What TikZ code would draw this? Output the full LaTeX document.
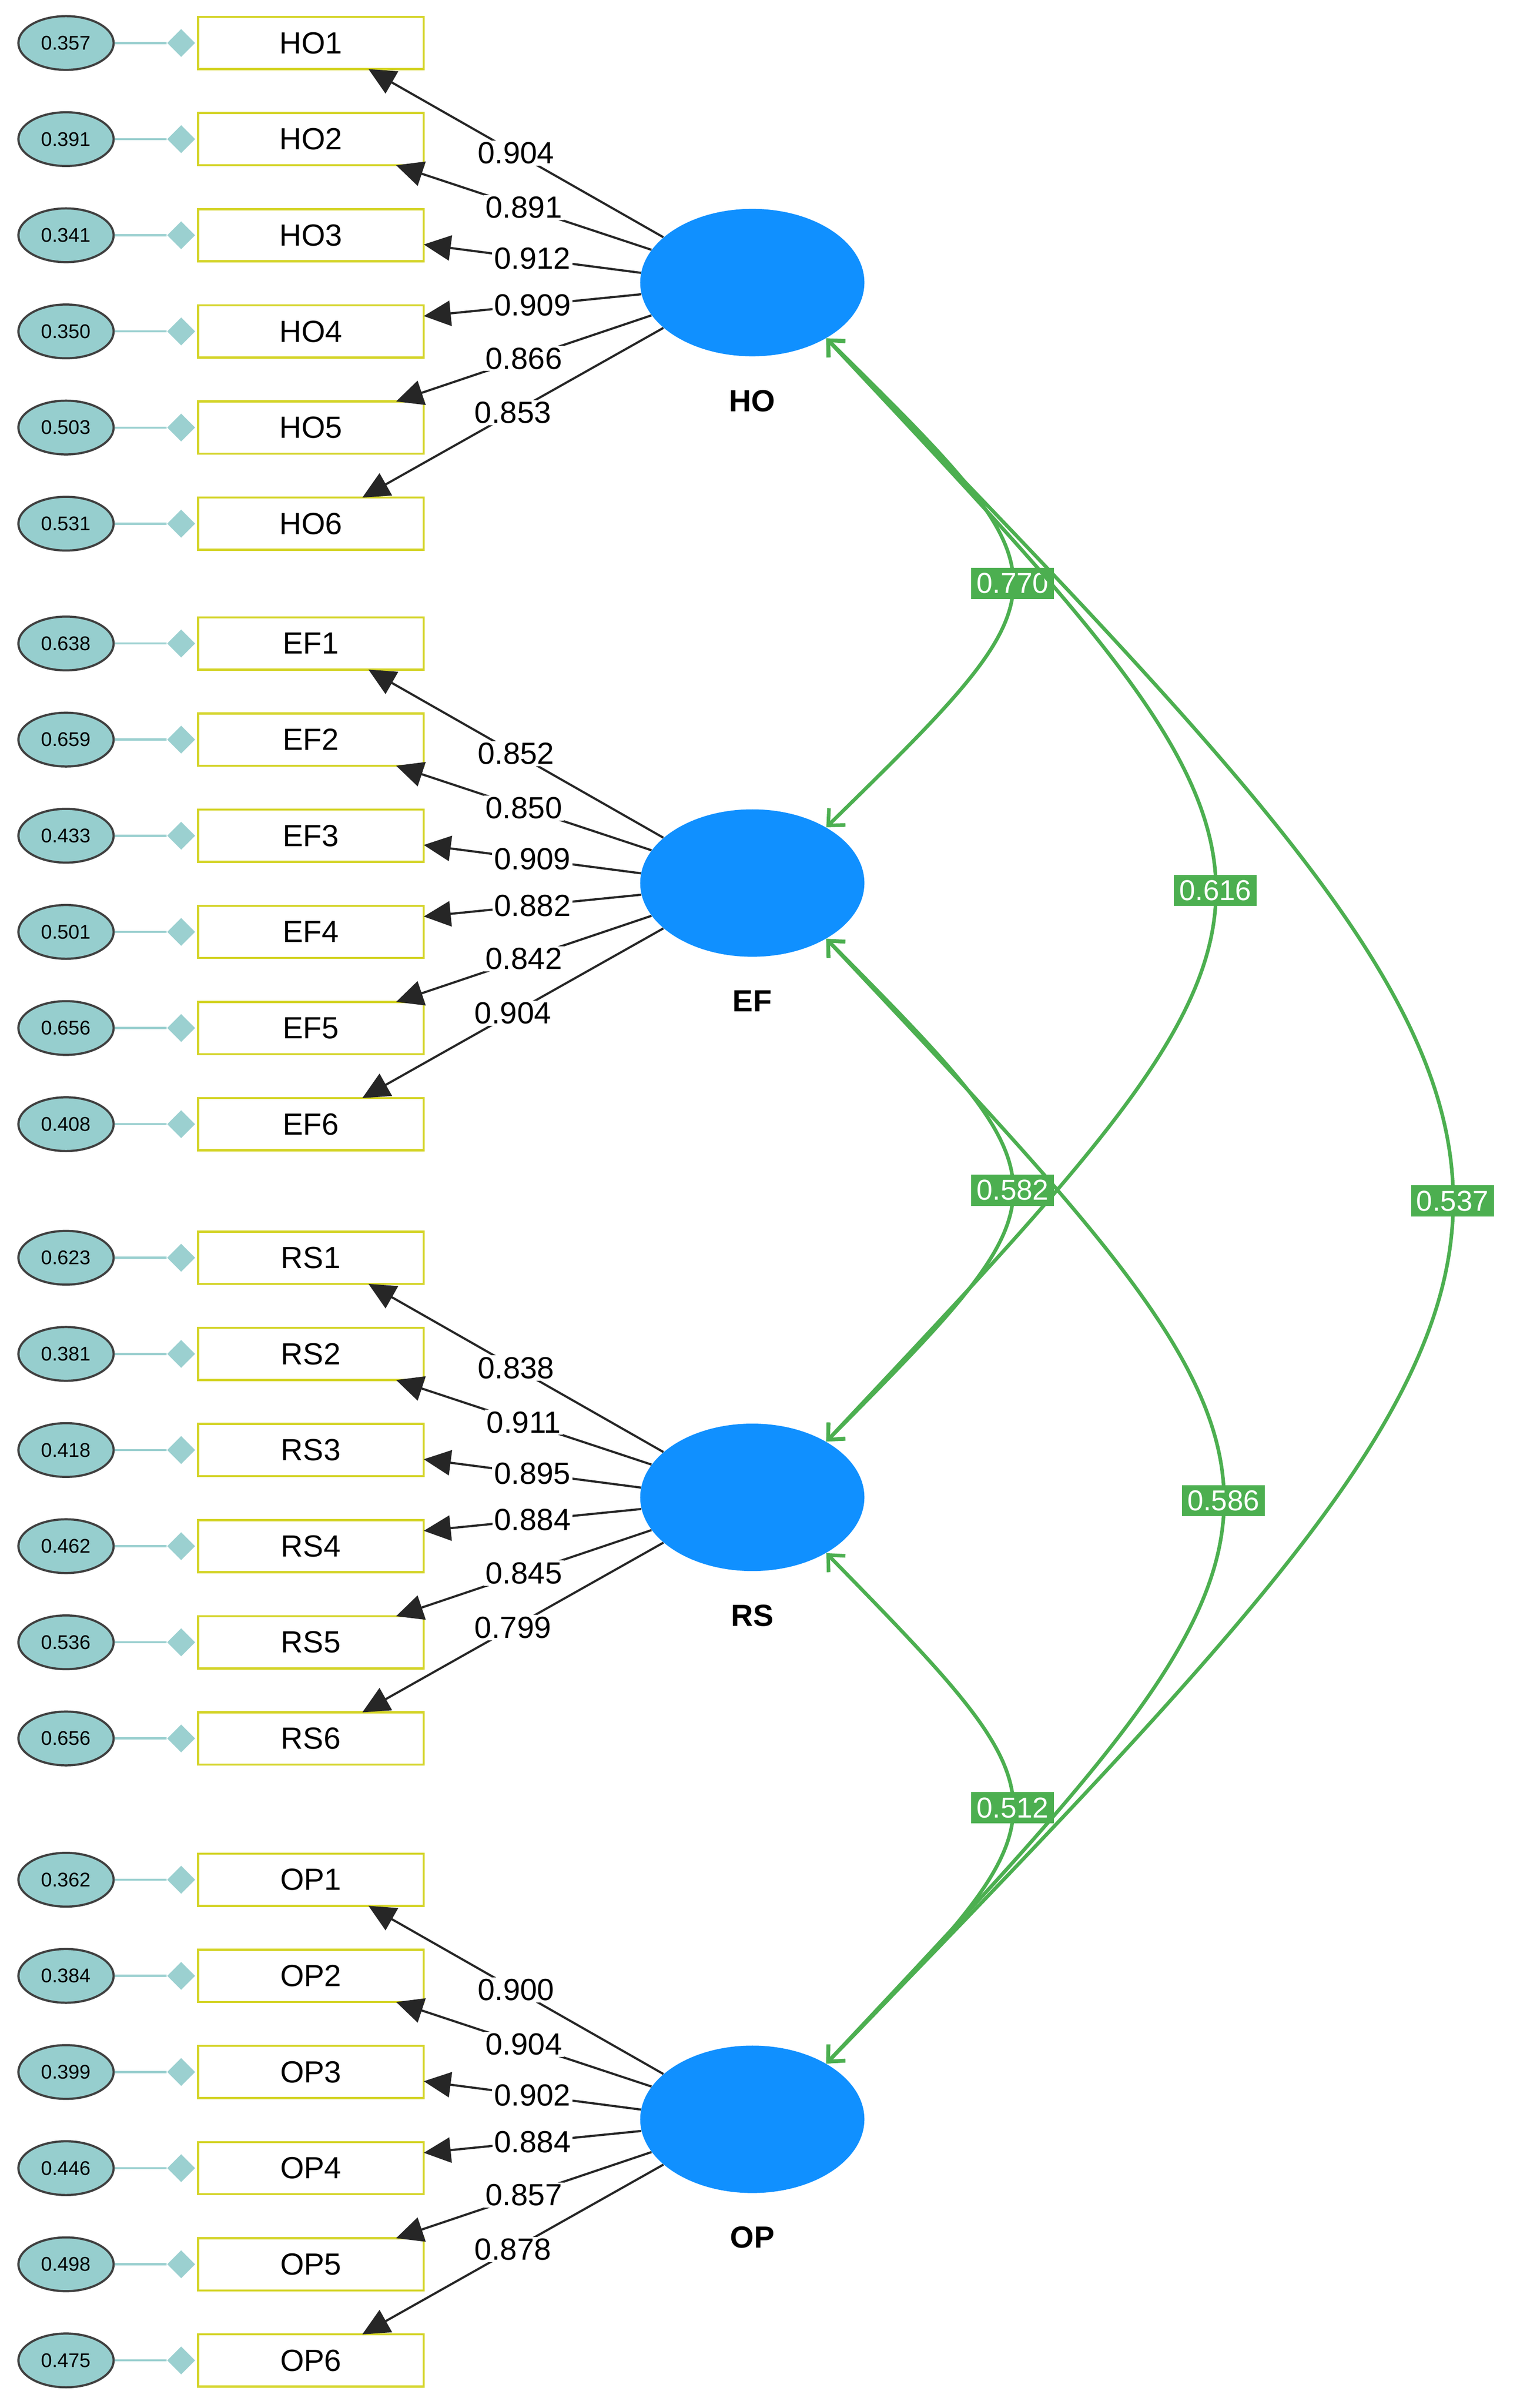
\documentclass[tikz,border=0pt]{standalone}
\usepackage{fontspec}
\setmainfont{Liberation Sans}
\usetikzlibrary{shapes.geometric,arrows.meta,calc}
\definecolor{lblue}{RGB}{16,144,255}
\definecolor{errc}{RGB}{150,206,206}
\definecolor{dia}{RGB}{155,208,208}
\definecolor{boxc}{RGB}{212,212,40}
\definecolor{grn}{RGB}{76,175,80}
\begin{document}
\begin{tikzpicture}[x=0.03cm,y=-0.03cm,
  latent/.style={ellipse,fill=lblue,minimum width=4.38cm,minimum height=2.88cm,inner sep=0pt},
  item/.style={draw=boxc,line width=1.2pt,fill=white,minimum width=4.41cm,minimum height=1.02cm,inner sep=0pt,font=\fontsize{17}{19}\selectfont},
  err/.style={ellipse,draw=black!75,line width=1.2pt,fill=errc,minimum width=1.86cm,minimum height=1.05cm,inner sep=0pt,font=\fontsize{11}{13}\selectfont},
  dmd/.style={diamond,fill=dia,minimum width=0.55cm,minimum height=0.55cm,inner sep=0pt},
  eline/.style={draw=dia,line width=1.2pt},
  load/.style={draw=black!85,line width=1.2pt,-{Triangle[length=15pt,width=14pt]}},
  lval/.style={fill=white,inner sep=1pt,font=\fontsize{17}{19}\selectfont},
  lname/.style={font=\bfseries\fontsize{17}{19}\selectfont},
  cov/.style={draw=grn,line width=2pt,{Straight Barb[length=7pt,width=13pt]}-{Straight Barb[length=7pt,width=13pt]}},
  clab/.style={fill=grn,text=white,inner sep=3pt,font=\fontsize{16}{18}\selectfont}]
\useasboundingbox (0,0) rectangle (990,1568);
\def\offx{{37.5,55.5,73.5,73.5,55.5,33.5}}
\def\offy{{17,17,6,-10,-17,-17}}
\def\angs{{153,162,175,186,198,207}}
\foreach \g/\ly/\data in {
  HO/184/{0.357/0.904,0.391/0.891,0.341/0.912,0.350/0.909,0.503/0.866,0.531/0.853},
  EF/575/{0.638/0.852,0.659/0.850,0.433/0.909,0.501/0.882,0.656/0.842,0.408/0.904},
  RS/975/{0.623/0.838,0.381/0.911,0.418/0.895,0.462/0.884,0.536/0.845,0.656/0.799},
  OP/1380/{0.362/0.900,0.384/0.904,0.399/0.902,0.446/0.884,0.498/0.857,0.475/0.878}}{
  \node[latent] (\g) at (490,\ly) {};
  \node[lname] (\g lab) at (490,\ly+77) {\g};
  \foreach \e/\l [count=\i] in \data {
    \pgfmathsetmacro\yy{\ly-156+(\i-1)*62.6}
    \pgfmathsetmacro\ox{\offx[\i-1]}
    \pgfmathsetmacro\oy{\offy[\i-1]}
    \pgfmathsetmacro\an{\angs[\i-1]}
    \node[item] (\g\i) at (202.5,\yy) {\g\i};
    \node[err] (e\g\i) at (43,\yy) {\e};
    \node[dmd] (d\g\i) at (118,\yy) {};
    \draw[eline] (e\g\i) -- (d\g\i);
    \coordinate (t\g\i) at ($(\g\i.center)+(\ox,\oy)$);
    \draw[load] (\g.\an) -- (t\g\i) node[midway,lval] {\l};
  }
}
\draw[cov] (HO.-37) .. controls (700,380) and (700,380) .. (EF.37) node[midway,clab] {0.770};
\draw[cov] (HO.-37) .. controls (876,580) and (876,580) .. (RS.37) node[midway,clab] {0.616};
\draw[cov] (HO.-37) .. controls (1082,782) and (1082,782) .. (OP.37) node[midway,clab] {0.537};
\draw[cov] (EF.-37) .. controls (700,775) and (700,775) .. (RS.37) node[midway,clab] {0.582};
\draw[cov] (EF.-37) .. controls (883,977) and (883,977) .. (OP.37) node[midway,clab] {0.586};
\draw[cov] (RS.-37) .. controls (700,1177) and (700,1177) .. (OP.37) node[midway,clab] {0.512};
\end{tikzpicture}
\end{document}
